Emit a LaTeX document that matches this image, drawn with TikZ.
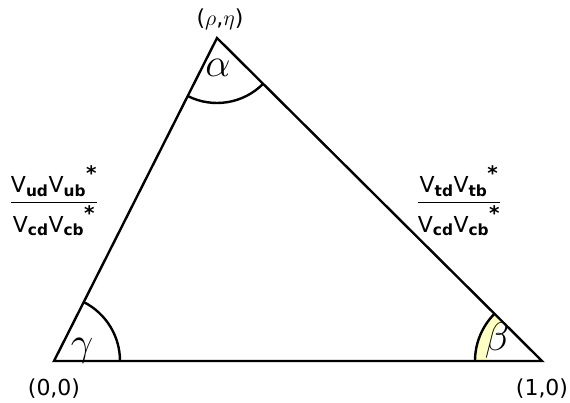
\RequirePackage{fix-cm}
\documentclass[tikz,border=0pt]{standalone}
\usepackage{fontspec}
\setmainfont{DejaVu Sans}
\usepackage{tikz}
\usetikzlibrary{angles,positioning}
\definecolor{betafill}{RGB}{255,255,196}

\begin{document}
\begin{tikzpicture}[
  x=1pt, y=1pt,
  line width=2.4pt,
  corner/.style={font=\fontsize{22}{22}\selectfont, inner sep=0pt},
  ratio/.style={font=\fontsize{22}{22}\selectfont, inner sep=0pt},
  greek/.style={font=\fontsize{40}{40}\selectfont, inner sep=0pt},
]
  \useasboundingbox (0,0) rectangle (570,403);

  \coordinate (O) at (54,42);
  \coordinate (B) at (542,42);
  \coordinate (A) at (217,365);

  % shaded band for beta
  \pic[fill=betafill, angle radius=67pt] {angle=A--B--O};
  \pic[fill=white, angle radius=55pt] {angle=A--B--O};

  \draw (O) -- (B) -- (A) -- cycle;

  \pic[draw, angle radius=66pt] {angle=B--O--A};
  \pic[draw, angle radius=65pt] {angle=O--A--B};
  \pic[draw, angle radius=67pt] {angle=A--B--O};

  \node[greek] (alpha) at (218,335) {$\alpha$};
  \node[greek] (gamma) at (82,52) {$\gamma$};
  \node[greek] (beta)  at (497,62) {$\beta$};

  \node[corner, above=7pt of A, xshift=3pt] (lA) {(\(\rho\),\(\eta\))};
  \node[corner, below=17pt of O] (lO) {(0,0)};
  \node[corner, below=17pt of B] (lB) {(1,0)};

  \node[ratio] (left) at (54,202)
    {$\displaystyle\frac{\mathrm{V}_{\mathbf{ud}}{\mathrm{V}_{\mathbf{ub}}}^{\mbox{\fontsize{20}{20}\selectfont\bfseries *}}}{\mathrm{V}_{\mathbf{cd}}{\mathrm{V}_{\mathbf{cb}}}^{\mbox{\fontsize{20}{20}\selectfont\bfseries *}}}$};
  \node[ratio] (right) at (459,202)
    {$\displaystyle\frac{\mathrm{V}_{\mathbf{td}}{\mathrm{V}_{\mathbf{tb}}}^{\mbox{\fontsize{20}{20}\selectfont\bfseries *}}}{\mathrm{V}_{\mathbf{cd}}{\mathrm{V}_{\mathbf{cb}}}^{\mbox{\fontsize{20}{20}\selectfont\bfseries *}}}$};
\end{tikzpicture}
\end{document}
